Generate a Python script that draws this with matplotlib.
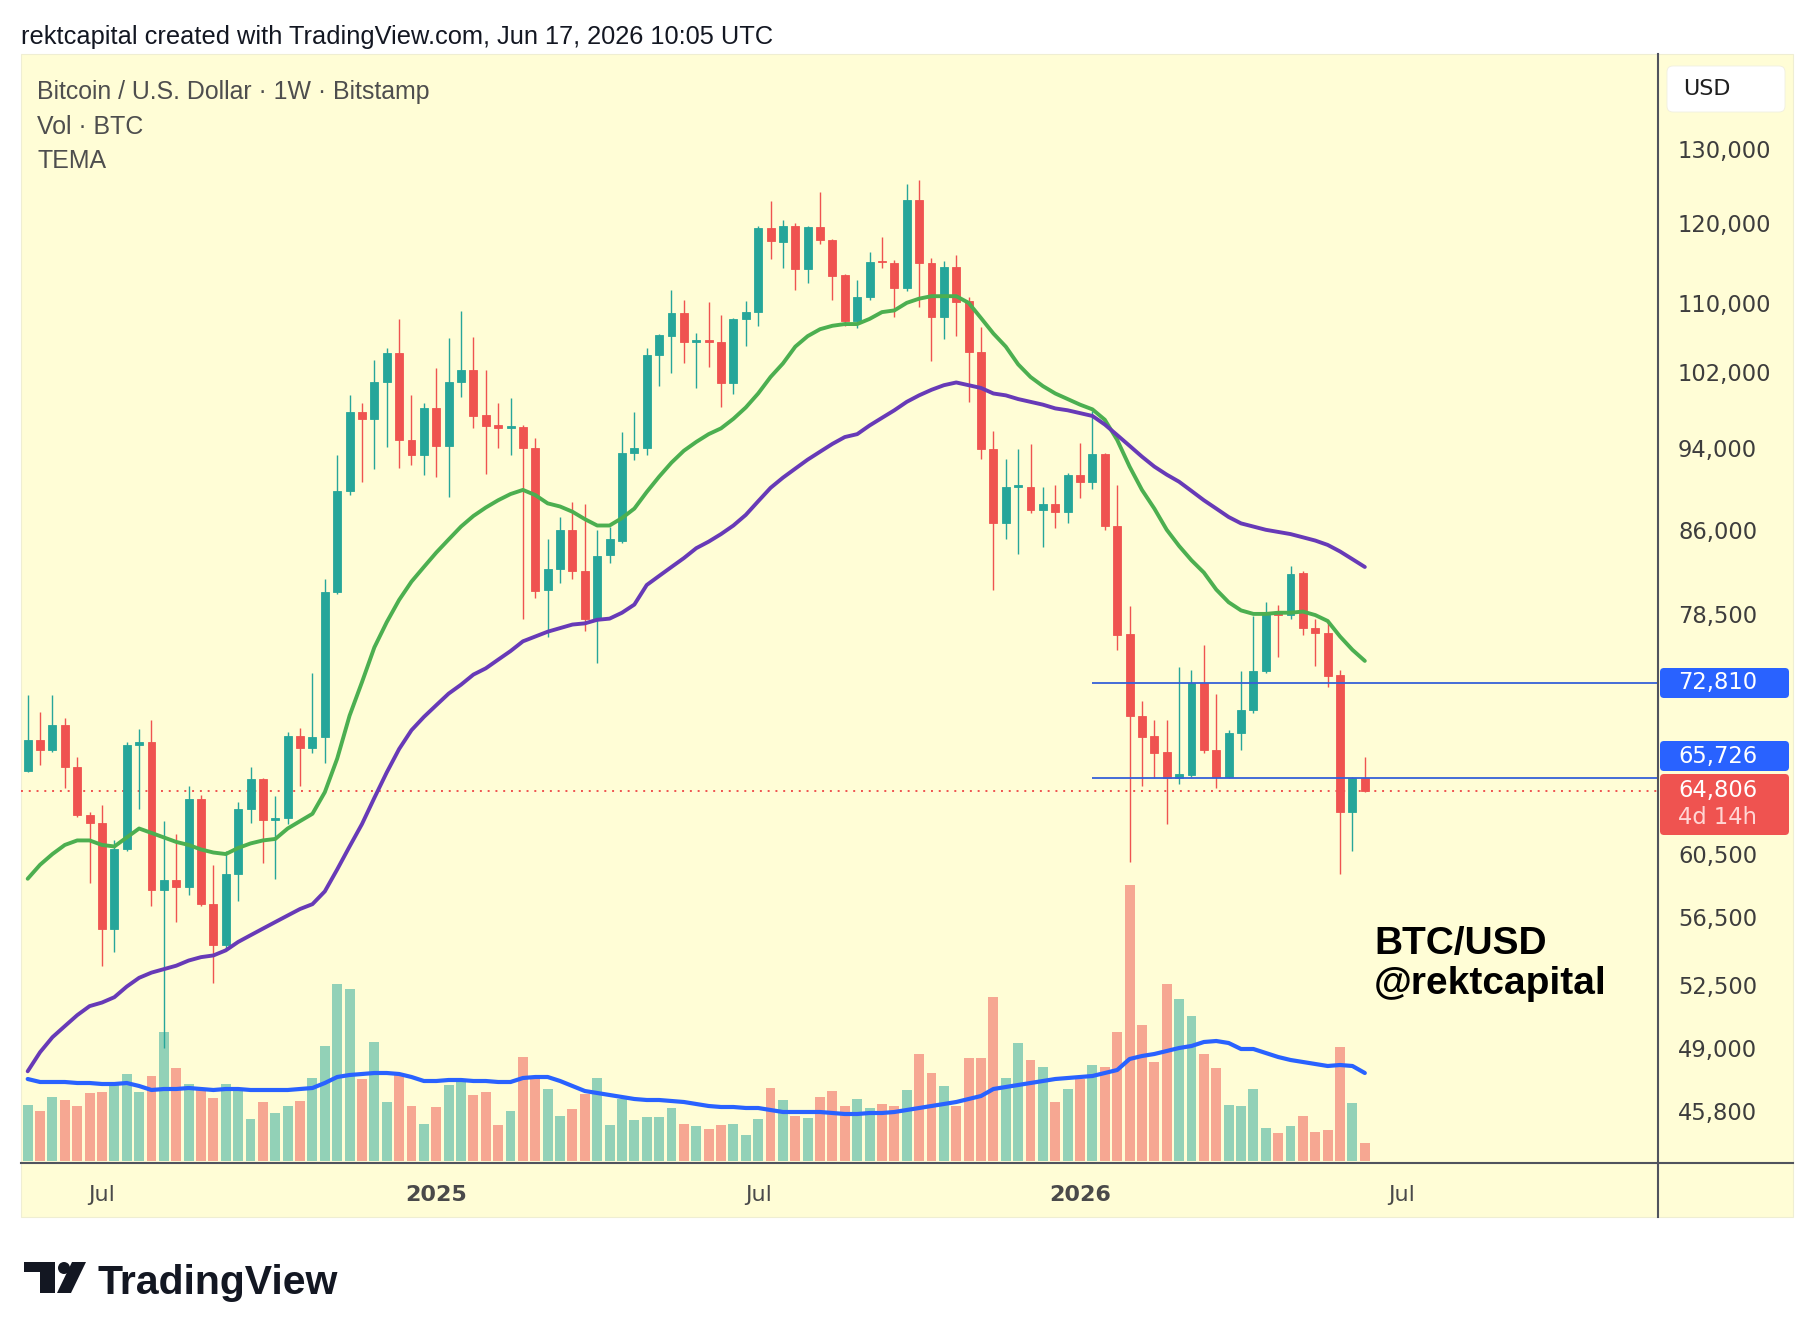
import matplotlib as mpl
import matplotlib.pyplot as plt
import numpy as np
import pandas as pd
from matplotlib.patches import Rectangle, FancyBboxPatch, Polygon, Circle

mpl.rcParams['font.family'] = ['Liberation Sans', 'DejaVu Sans']

# ---------- weekly BTC/USD candles, in thousand USD (first week: 2024-05-20) ----------
opens = [66.2, 68.5, 67.7, 69.6, 66.5, 63.1, 62.6, 55.8, 60.8, 68.1,
         68.3, 58.2, 58.8, 58.4, 64.2, 57.3, 54.8, 59.2, 63.5, 65.6,
         62.8, 62.9, 68.8, 67.9, 68.7, 80.4, 89.7, 97.7, 97.0, 101.0,
         104.2, 94.8, 93.3, 98.1, 94.2, 101.0, 102.3, 97.4, 96.4, 96.0,
         96.1, 94.0, 80.6, 82.4, 86.0, 82.2, 78.1, 83.7, 85.0, 93.5,
         94.0, 103.9, 106.1, 108.8, 105.4, 105.6, 105.4, 100.8, 108.1, 108.9,
         119.3, 117.5, 119.5, 114.1, 119.4, 117.8, 113.4, 107.9, 110.7, 115.1,
         114.9, 111.8, 123.0, 114.8, 108.3, 114.3, 110.2, 104.3, 93.9, 86.6,
         90.1, 90.1, 87.9, 88.4, 87.7, 91.3, 90.6, 93.4, 86.4, 76.8,
         70.3, 68.8, 67.6, 65.7, 65.9, 72.8, 67.7, 65.8, 69.0, 70.7,
         73.8, 78.6, 78.4, 82.1, 77.3, 76.9, 73.5, 63.3, 65.7]
highs = [71.9, 70.6, 71.9, 70.1, 67.2, 63.3, 63.8, 61.4, 68.3, 69.3,
         70.0, 62.7, 61.8, 65.1, 64.5, 59.8, 60.7, 64.0, 66.5, 65.7,
         64.4, 69.1, 69.4, 73.6, 81.5, 93.3, 99.5, 98.7, 103.4, 104.8,
         108.1, 99.5, 98.7, 102.5, 105.9, 109.0, 106.0, 102.3, 98.7, 99.2,
         96.4, 95.0, 85.1, 87.2, 88.6, 88.4, 86.0, 86.3, 95.6, 97.7,
         104.8, 106.4, 111.6, 110.4, 106.5, 110.1, 108.6, 108.2, 110.2, 119.5,
         122.8, 120.3, 119.9, 119.5, 124.0, 117.9, 113.5, 112.8, 116.3, 118.1,
         115.2, 125.1, 125.7, 115.5, 115.1, 115.9, 110.7, 107.1, 95.7, 92.9,
         93.9, 94.4, 90.1, 90.3, 91.5, 94.5, 97.8, 93.5, 90.3, 79.2,
         71.4, 70.0, 70.0, 74.1, 73.9, 75.9, 72.0, 69.2, 73.8, 78.3,
         79.5, 79.3, 82.7, 82.2, 78.1, 77.9, 73.9, 65.8, 67.2]
lows = [66.1, 66.6, 67.6, 65.0, 63.0, 58.6, 53.6, 54.4, 60.7, 63.5,
        57.2, 49.0, 56.2, 57.9, 57.2, 52.6, 54.6, 57.5, 62.6, 59.9,
        58.9, 62.5, 65.1, 67.5, 66.8, 80.2, 89.3, 90.6, 91.9, 94.1,
        92.0, 92.3, 91.3, 91.1, 89.1, 99.3, 96.0, 91.4, 94.0, 93.3,
        78.1, 79.9, 76.6, 81.2, 81.5, 77.1, 74.4, 83.0, 84.8, 92.8,
        93.3, 100.5, 101.9, 103.0, 100.3, 102.6, 98.2, 99.6, 105.0, 107.3,
        115.4, 114.2, 111.6, 112.4, 117.3, 110.4, 107.3, 107.0, 110.4, 114.2,
        108.3, 111.4, 109.5, 103.3, 105.8, 106.1, 98.8, 92.9, 80.6, 85.1,
        83.8, 87.6, 84.4, 86.2, 86.6, 89.0, 89.9, 86.0, 75.5, 60.0,
        65.1, 65.7, 62.5, 65.3, 65.8, 67.5, 65.0, 65.7, 67.7, 70.5,
        73.6, 74.9, 78.1, 76.7, 74.2, 72.5, 59.2, 60.7, 64.7]
closes = [68.5, 67.7, 69.6, 66.5, 63.1, 62.6, 55.8, 60.8, 68.1, 68.3,
          58.2, 58.8, 58.4, 64.2, 57.3, 54.8, 59.2, 63.5, 65.6, 62.8,
          62.9, 68.8, 67.9, 68.7, 80.4, 89.7, 97.7, 97.0, 101.0, 104.2,
          94.8, 93.3, 98.1, 94.2, 101.0, 102.3, 97.3, 96.2, 96.0, 96.2,
          94.0, 80.5, 82.4, 86.0, 82.2, 78.1, 83.6, 85.1, 93.5, 94.0,
          103.9, 106.2, 108.8, 105.4, 105.6, 105.4, 100.8, 108.1, 108.9, 119.3,
          117.6, 119.5, 114.1, 119.4, 117.7, 113.3, 107.9, 110.7, 115.0, 115.0,
          111.8, 123.0, 114.8, 108.3, 114.3, 110.1, 104.3, 93.9, 86.6, 90.1,
          90.3, 87.9, 88.4, 87.7, 91.3, 90.6, 93.4, 86.4, 76.7, 70.3,
          68.7, 67.5, 65.7, 66.0, 72.8, 67.7, 65.8, 69.0, 70.7, 73.8,
          78.6, 78.4, 82.0, 77.3, 76.9, 73.4, 63.3, 65.7, 64.806]

# indicator lines (thousand USD)
tema_fast = [58.9, 59.8, 60.5, 61.1, 61.4, 61.4, 61.1, 61.0, 61.6, 62.2,
             61.9, 61.6, 61.3, 61.1, 60.8, 60.6, 60.5, 60.9, 61.2, 61.4,
             61.5, 62.2, 62.7, 63.2, 64.7, 67.1, 70.3, 72.9, 75.7, 77.8,
             79.7, 81.3, 82.6, 83.9, 85.1, 86.3, 87.3, 88.1, 88.8, 89.4,
             89.8, 89.3, 88.5, 88.2, 87.7, 87.0, 86.4, 86.4, 87.1, 88.0,
             89.6, 91.1, 92.5, 93.7, 94.6, 95.4, 96.0, 97.0, 98.2, 99.7,
             101.5, 103.0, 104.9, 106.1, 106.9, 107.3, 107.5, 107.5, 108.1, 108.9,
             109.1, 110.0, 110.5, 110.8, 110.8, 110.8, 110.0, 108.2, 106.4, 104.9,
             102.9, 101.5, 100.5, 99.7, 99.1, 98.5, 98.0, 96.9, 94.8, 92.1,
             89.8, 88.0, 86.0, 84.5, 83.2, 82.1, 80.6, 79.5, 78.8, 78.5,
             78.5, 78.6, 78.6, 78.7, 78.4, 77.9, 76.6, 75.5, 74.6]
tema_slow = [47.8, 48.8, 49.6, 50.2, 50.8, 51.3, 51.5, 51.8, 52.4, 52.9,
             53.2, 53.4, 53.6, 53.9, 54.1, 54.2, 54.5, 55.0, 55.4, 55.8,
             56.2, 56.6, 57.0, 57.3, 58.1, 59.5, 61.0, 62.5, 64.3, 66.1,
             67.8, 69.2, 70.2, 71.1, 72.0, 72.7, 73.5, 74.0, 74.7, 75.4,
             76.2, 76.6, 77.0, 77.3, 77.6, 77.7, 78.0, 78.1, 78.6, 79.3,
             81.0, 81.8, 82.6, 83.4, 84.3, 84.9, 85.6, 86.4, 87.4, 88.7,
             90.0, 91.0, 91.9, 92.8, 93.6, 94.4, 95.1, 95.4, 96.3, 97.1,
             97.9, 98.8, 99.5, 100.1, 100.6, 100.9, 100.6, 100.3, 99.7, 99.5,
             99.1, 98.8, 98.5, 98.1, 97.9, 97.6, 97.3, 96.4, 95.3, 94.2,
             93.1, 92.1, 91.3, 90.6, 89.7, 88.8, 88.0, 87.2, 86.6, 86.3,
             86.0, 85.8, 85.6, 85.3, 85.0, 84.6, 84.0, 83.3, 82.6]

# volume (thousand BTC) and its moving average
volume = [5.6, 5.0, 6.4, 6.1, 5.5, 6.8, 6.9, 7.7, 8.7, 6.9,
          8.5, 12.9, 9.3, 7.7, 7.1, 6.3, 7.7, 7.2, 4.2, 5.9,
          4.8, 5.5, 6.0, 8.3, 11.5, 17.7, 17.2, 8.2, 11.9, 5.9,
          8.6, 5.5, 3.7, 5.4, 7.6, 7.9, 6.6, 6.9, 3.6, 5.0,
          10.4, 8.2, 7.2, 4.5, 5.2, 6.7, 8.3, 3.6, 6.2, 4.1,
          4.4, 4.4, 5.3, 3.7, 3.5, 3.2, 3.6, 3.7, 2.6, 4.2,
          7.3, 6.1, 4.5, 4.3, 6.4, 7.0, 5.5, 6.2, 5.3, 5.7,
          5.5, 7.1, 10.7, 8.8, 7.5, 5.5, 10.3, 10.3, 16.4, 8.3,
          11.8, 10.1, 9.4, 5.9, 7.2, 8.2, 9.6, 9.4, 12.9, 27.6,
          13.6, 9.9, 17.7, 16.2, 14.5, 10.7, 9.3, 5.6, 5.5, 7.2,
          3.3, 2.8, 3.5, 4.5, 2.9, 3.1, 11.4, 5.8, 1.8]
volume_ma = [8.2, 7.9, 7.9, 7.9, 7.8, 7.8, 7.7, 7.7, 7.8, 7.5,
             7.1, 7.2, 7.2, 7.3, 7.2, 7.1, 7.2, 7.2, 7.1, 7.1,
             7.1, 7.1, 7.2, 7.3, 7.8, 8.4, 8.6, 8.7, 8.8, 8.8,
             8.7, 8.4, 8.0, 8.0, 8.1, 8.1, 8.0, 8.0, 7.9, 7.9,
             8.3, 8.4, 8.4, 8.0, 7.5, 7.0, 6.8, 6.6, 6.4, 6.2,
             6.1, 6.1, 6.0, 5.9, 5.7, 5.5, 5.4, 5.4, 5.3, 5.3,
             5.1, 4.9, 4.9, 4.9, 4.9, 4.8, 4.7, 4.7, 4.8, 4.8,
             4.9, 5.1, 5.3, 5.5, 5.7, 5.9, 6.2, 6.5, 7.2, 7.4,
             7.6, 7.8, 8.0, 8.2, 8.3, 8.4, 8.5, 8.8, 9.1, 10.2,
             10.5, 10.7, 11.0, 11.3, 11.5, 11.9, 12.0, 11.8, 11.2, 11.2,
             10.8, 10.4, 10.1, 9.9, 9.7, 9.5, 9.6, 9.5, 8.8]

levels = [72810, 65726]
level_start = 86
last_price = 64806
price_ticks = [130000, 120000, 110000, 102000, 94000, 86000, 78500,
               60500, 56500, 52500, 49000, 45800]

W, H = 1814, 1338
TEAL, RED, BLUE = '#26a69a', '#ef5350', '#2962ff'
BG = '#fffdd6'
AXC = '#50535e'

fig = plt.figure(figsize=(W / 100, H / 100), dpi=100)
fig.patch.set_facecolor('white')


def rect(l, t, r, b):
    return [l / W, 1 - b / H, (r - l) / W, (b - t) / H]


# chart panel background
bg = fig.add_axes([0, 0, 1, 1])
bg.set_xlim(0, W)
bg.set_ylim(H, 0)
bg.axis('off')
bg.add_patch(Rectangle((21, 54), 1772, 1163, facecolor=BG, edgecolor='#efeed3', lw=0.8))

x = np.arange(len(opens))
weeks = pd.date_range('2024-05-20', periods=len(opens) + 5, freq='7D')
xlim = (-0.54, 131.68)

o = np.array(opens) * 1000
h = np.array(highs) * 1000
l = np.array(lows) * 1000
c = np.array(closes) * 1000
up = c >= o
col = np.where(up, TEAL, RED)

# ---------- volume pane ----------
axv = fig.add_axes(rect(21, 54, 1658, 1163))
axv.set_xlim(*xlim)
axv.set_ylim(-0.2, 110.7)
axv.axis('off')
axv.bar(x, volume, width=0.8, color=col, alpha=0.5, lw=0)
axv.plot(x, volume_ma, color=BLUE, lw=3.0, solid_capstyle='round')

# ---------- price pane ----------
ax = fig.add_axes(rect(21, 54, 1658, 1163))
ax.patch.set_visible(False)
ax.set_yscale('log')
ax.set_xlim(*xlim)
ax.set_ylim(43274, 144083)

ax.vlines(x, l, h, colors=col, lw=1.0, zorder=3)
ax.bar(x, np.abs(c - o), bottom=np.minimum(o, c), width=0.64, color=col,
       edgecolor=col, lw=0.6, zorder=4)

ax.plot(x, np.array(tema_fast) * 1000, color='#4caf50', lw=2.8, zorder=5,
        solid_capstyle='round')
ax.plot(x, np.array(tema_slow) * 1000, color='#673ab7', lw=2.8, zorder=5,
        solid_capstyle='round')

ax.hlines(levels, level_start, xlim[1], color='#3560d8', lw=1.3, zorder=6)
ax.axhline(last_price, color=RED, lw=1.4, ls=(0, (1, 3.0)), zorder=2)

for s in ax.spines.values():
    s.set_visible(False)

ax.yaxis.tick_right()
ax.yaxis.set_major_locator(mpl.ticker.FixedLocator(price_ticks))
ax.yaxis.set_minor_locator(mpl.ticker.NullLocator())
ax.yaxis.set_major_formatter(mpl.ticker.FuncFormatter(lambda v, p: f'{v:,.0f}'))
ax.tick_params(axis='y', length=0, pad=14.4, labelsize=16.3, labelcolor='#3d3d3d')
for t in ax.get_yticklabels():
    t.set_fontfamily('DejaVu Sans')

tick_idx = [i for i in range(1, len(weeks))
            if weeks[i].month != weeks[i - 1].month and weeks[i].month in (1, 7)]
tick_lab = [str(weeks[i].year) if weeks[i].month == 1 else 'Jul' for i in tick_idx]
ax.set_xticks(tick_idx, tick_lab)
ax.tick_params(axis='x', length=0, pad=15.5, labelsize=16, labelcolor='#4a4a4a')
for t in ax.get_xticklabels():
    t.set_fontfamily('DejaVu Sans')
    if t.get_text() != 'Jul':
        t.set_fontweight('bold')

# ---------- overlay: frame, labels, logo ----------
ov = fig.add_axes([0, 0, 1, 1])
ov.set_xlim(0, W)
ov.set_ylim(H, 0)
ov.axis('off')

ov.plot([1658, 1658], [54, 1217], color=AXC, lw=1.5)
ov.plot([21, 1793], [1163, 1163], color=AXC, lw=1.5)

ov.add_patch(FancyBboxPatch((1667, 66), 118, 46, boxstyle='round,pad=0,rounding_size=6',
                            fc='white', ec='#f0efe0', lw=0.6))
ov.text(1683, 89, 'USD', fontsize=16, va='center', color='#1f1f1f', family='DejaVu Sans')

boxes = [(668, 698, BLUE), (741, 771, BLUE), (774, 835, RED)]
for y0, y1, fc in boxes:
    ov.add_patch(FancyBboxPatch((1660, y0), 129, y1 - y0,
                                boxstyle='round,pad=0,rounding_size=4', fc=fc, ec='none'))
ov.text(1678, 683, f'{levels[0]:,}', fontsize=16.3, va='center', color='white', family='DejaVu Sans')
ov.text(1678, 756, f'{levels[1]:,}', fontsize=16.3, va='center', color='white', family='DejaVu Sans')
ov.text(1678, 790, f'{last_price:,}', fontsize=16.3, va='center', color='white', family='DejaVu Sans')
ov.text(1678, 817, '4d 14h', fontsize=16.3, va='center', color='#ffd6d4', family='DejaVu Sans')

ov.text(21, 37, 'rektcapital created with TradingView.com, Jun 17, 2026 10:05 UTC',
        fontsize=18.3, va='center', color='#131722')
ov.text(37, 92.5, 'Bitcoin / U.S. Dollar · 1W · Bitstamp', fontsize=17.9, va='center', color='#4e4e4e')
ov.text(37, 126.5, 'Vol · BTC', fontsize=17.9, va='center', color='#4e4e4e')
ov.text(37, 160.5, 'TEMA', fontsize=17.9, va='center', color='#4e4e4e')

ov.text(1374, 944, 'BTC/USD', fontsize=28, weight='bold', va='center', color='black')
ov.text(1374, 984, '@rektcapital', fontsize=28, weight='bold', va='center', color='black')

# TradingView logo
ov.add_patch(Rectangle((24, 1262), 31, 10, fc='#131722', ec='none'))
ov.add_patch(Rectangle((40, 1262), 15, 31, fc='#131722', ec='none'))
ov.add_patch(Circle((64, 1268), 6, fc='#131722', ec='none'))
ov.add_patch(Polygon([(72, 1262), (86, 1262), (71, 1293), (57, 1293)], closed=True,
                     fc='#131722', ec='none'))
ov.text(97, 1294, 'TradingView', fontsize=29.5, weight='bold', va='baseline', color='#131722')

fig.savefig('out.png', dpi=100, facecolor='white')
